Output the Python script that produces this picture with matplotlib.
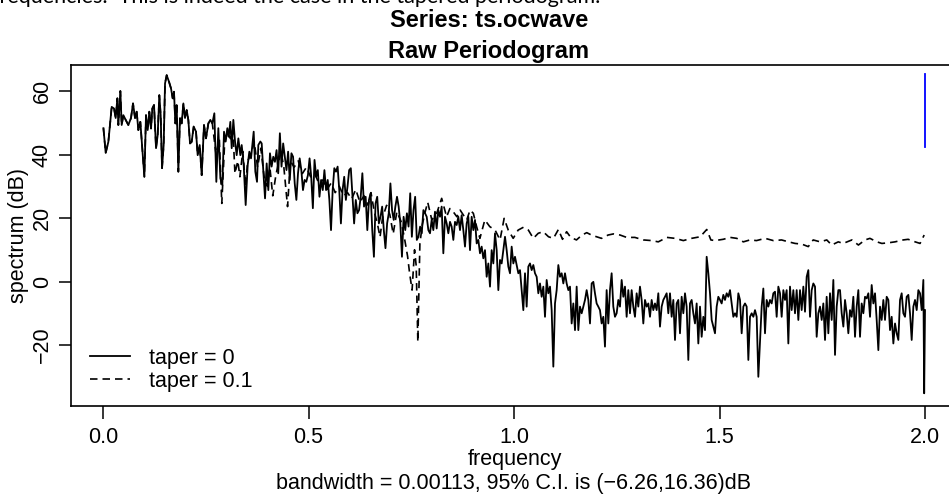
import numpy as np
import matplotlib
matplotlib.use("Agg")
import matplotlib.pyplot as plt

plt.rcParams["font.family"] = ["Liberation Sans", "DejaVu Sans"]

# taper = 0 : low-frequency part (explicit frequencies)
freq_a = [0.001, 0.0065, 0.013, 0.0211, 0.0268, 0.0308, 0.0349, 0.0373, 0.0422, 0.0454,
          0.0495, 0.0552, 0.0616, 0.0681, 0.073, 0.0779, 0.0819, 0.086, 0.0908, 0.1006,
          0.1046, 0.1087, 0.1127, 0.1168, 0.12, 0.1241, 0.129, 0.133, 0.137, 0.1403,
          0.1436, 0.1476, 0.1509, 0.1549, 0.1606, 0.1655, 0.1695, 0.1727, 0.176, 0.1792,
          0.1833, 0.1873, 0.1914, 0.1955, 0.1995, 0.2036, 0.2076, 0.2117, 0.2157, 0.2206,
          0.2263, 0.2303, 0.2352, 0.2401, 0.2457, 0.2506, 0.2563, 0.2611, 0.266, 0.2709,
          0.2757, 0.2806, 0.2855, 0.2903, 0.2944, 0.2985, 0.3025, 0.3058, 0.3098, 0.3131,
          0.3171, 0.3212, 0.3252, 0.3293, 0.3341, 0.3374, 0.3423, 0.3471, 0.352, 0.356,
          0.3601, 0.3633, 0.3666, 0.3706, 0.3747, 0.3779, 0.3828, 0.3861, 0.3901, 0.3942]
spec_a = [48.3, 40.5, 44, 55, 54.5, 51.5, 57.7, 49.3, 60, 49.3,
          52.4, 50.9, 49.3, 51.5, 56.1, 51.5, 53.5, 47.7, 50.3, 33,
          52.4, 47.7, 53.5, 48.2, 54.5, 55.6, 42, 46.1, 58.7, 52.4,
          35.7, 43, 62.4, 65, 62.9, 60.8, 57.7, 59.8, 49.8, 55.6,
          34.6, 51.5, 49.8, 56.1, 51.5, 54, 50.9, 43.5, 44, 48.8,
          47.2, 39.8, 43, 33.5, 49.3, 45.1, 49.8, 50.9, 49.8, 53,
          31.4, 48.3, 32.5, 30.4, 47.2, 44.1, 48.3, 45.6, 50.3, 42,
          50.9, 44.1, 39.8, 45.1, 39.8, 43, 36.7, 24.1, 36.7, 40.9,
          38.8, 43, 47.2, 34.6, 31.4, 43, 44.1, 43.5, 34.6, 26.2]

# taper = 0 : evenly spaced segments (start, end, values)
spec_b = [37.2, 28.8, 40.4, 36.2, 39.3, 37.7, 41.4, 34.1, 46.7, 36.2,
          43.5, 39.3, 35.1, 40.9, 32, 40.4, 39.3, 30.9, 25.7, 34.1,
          38.8, 35.1, 28.8, 32, 31.4, 33.5, 38.8, 33, 23.1, 38.3,
          33, 35.1, 26.7, 32, 28.8, 35.1, 28.8, 32, 25.7, 16.2,
          28.8, 35.7, 34.6, 36.2, 28.8, 18.3, 28.8, 33, 25.7, 29.9,
          35.1, 35.7, 26.7, 18.3, 25.7, 21.5, 22.5, 26.7, 34.1, 23.6,
          26.7, 16.2, 25.7, 27.8, 16.2, 7.8, 24.6, 26.7, 18.3, 20.4,
          23.6, 16.2, 10.5, 18.3, 21.5, 30.9, 22.5, 19.4, 23.6, 26.7,
          23.6, 18.3, 7.8, 20.4, 16.2, 21.5, 17.3, 27.8, 14.1, 22.5,
          26.7, 13.1, 14.1, 17.3, 15.2, 22.5, 21.5, 20.4, 16.2]
spec_c = [15.2, 19.4, 16.2, 22.0, 16.7, 22.5, 20.4, 23.6, 8.9, 20.4,
          18.3, 15.2, 18.8, 17.3, 13.1, 18.8, 17.8, 20.4, 16.2, 20.9,
          16.2, 11.0, 18.3, 20.4, 9.9, 20.4, 16.2, 19.4, 12.0, 13.1,
          8.9, 11.0, 7.3, 9.9, 1.5, 5.7, -1.6, 9.9, 5.7, 15.2,
          9.9, -2.7, 6.8, 5.7, 9.9, 14.1, 9.9, 4.7, 2.6, 11.0,
          5.7, 7.8, 5.2, 2.6, 3.6, -2.7, -9.0, 2.6, -7.9, 4.7,
          5.7, 3.6, 5.2, 2.6, 1.5, -3.7, -0.6, -4.8, -1.6, -11.1,
          0.5, -3.7, -1.6, -9.0, -26.8, -6.9, -2.7, 5.2, 1.5, 2.6,
          -0.6, 2.6, -0.6, -2.7, -1.6, -13.2, -6.9, -15.3, -1.6, -15.3,
          -7.9, -10.0, -7.9, -5.8, -2.7, -5.8, -13.2, -0.6, -0.1]
spec_d = [-3.7, -6.9, -7.9, -9.0, -13.2, -11.1, -20.5, -2.7, -13.2, -2.7,
          2.6, -7.9, -11.1, -10.0, -5.8, -7.9, 0.5, -4.8, -1.6, -11.1,
          -2.7, -10.0, -2.7, -7.9, -11.1, -3.7, -7.9, -1.6, -5.8, -13.2,
          -5.8, -7.9, -6.9, -11.1, -5.8, -9.0, -6.9, -9.0, -3.7, -14.2,
          -7.9, -5.8, -4.8, -3.7, -10.0, -3.7, -11.1, -5.8, -18.4, -6.9,
          -5.8, -16.3, -4.8, -10.0, -3.7, -7.9, -24.7, -6.9, -5.8, -10.0,
          -13.2, -6.9, -19.5, -7.9, -17.4, -11.1, -15.3, 7.8, 2.6, -3.7,
          -12.1, -14.2, -16.3, -7.9, -4.8, -5.8, -6.9, -4.2, -5.8, -3.7,
          -4.8, -2.7, -6.9, -11.1, -10.0, -11.1, -3.7, -5.8, -16.3, -7.9,
          -6.9, -7.9, -24.7, -11.1, -10.0, -11.1, -9.0, -11.1, -30.0]
spec_e = [-7.9, -2.2, -16.3, -5.8, -7.9, -5.8, -6.9, -3.7, -3.2, -11.1,
          -1.6, -3.7, -11.1, -2.7, -5.8, -2.7, -19.5, -1.6, -9.0, -2.7,
          -10.0, -2.7, -12.1, -2.7, -9.0, -1.6, -9.5, 1.5, 3.6, -11.1,
          -2.7, -0.6, -1.6, -17.4, -10.0, -7.9, -12.1, -6.9, -18.4, -4.8,
          -16.3, -3.7, -12.1, 0.5, -23.1, -7.9, -2.7, -2.7, -10.0, -14.2,
          -5.8, -10.0, -16.3, -9.0, -11.1, -4.8, -17.4, -7.9, -2.7, -17.4,
          -6.9, -10.0, -4.8, -5.3, -3.7, -11.1, -1.1, -6.9, -3.7, -12.1,
          -21.6, -7.9, -12.1, -5.8, -12.1, -4.8, -5.8, -15.3, -11.1, -19.5,
          -13.2, -16.3, -18.4, -5.8, -3.7, -10.0, -11.1, -4.8, -4.2, -10.0,
          -18.4, -7.9, -5.8, -9.0, -2.7, -3.7, -9.0, 0.5]
freq_end = [1.998, 2.0]
spec_end = [-35.2, -9.0]

segments = [(0.3982, 0.7916, spec_b), (0.7956, 1.193, spec_c),
            (1.197, 1.5945, spec_d), (1.6026, 1.996, spec_e)]

freq0 = list(freq_a)
spec0 = list(spec_a)
for lo, hi, vals in segments:
    freq0 += list(np.linspace(lo, hi, len(vals)))
    spec0 += vals
freq0 += freq_end
spec0 += spec_end
freq0 = np.array(freq0)
spec0 = np.array(spec0)

# taper = 0.1 : coincides with taper = 0 below 0.27, then read separately
freq_t = [0.275, 0.283, 0.289, 0.296, 0.303, 0.31, 0.316, 0.321, 0.328, 0.333,
          0.34, 0.347, 0.352, 0.36, 0.368, 0.376, 0.384, 0.392, 0.40, 0.406,
          0.413, 0.42, 0.426, 0.433, 0.44, 0.449, 0.456, 0.465, 0.475, 0.485,
          0.495, 0.505, 0.515, 0.525, 0.535, 0.545, 0.555, 0.565, 0.575, 0.585,
          0.595, 0.605, 0.615, 0.625, 0.635, 0.645, 0.652, 0.66, 0.668, 0.674,
          0.68, 0.69, 0.698, 0.706, 0.715, 0.725, 0.733, 0.741, 0.746, 0.752,
          0.758, 0.762, 0.766, 0.771, 0.777, 0.784, 0.79, 0.797,
          0.80, 0.812, 0.824, 0.836, 0.844, 0.852, 0.861, 0.869, 0.877, 0.885,
          0.893, 0.901, 0.909, 0.917, 0.929, 0.941, 0.954, 0.966, 0.976, 0.986,
          0.998, 1.01, 1.023, 1.035, 1.047, 1.059, 1.071, 1.084, 1.096, 1.108,
          1.118, 1.128, 1.138, 1.152, 1.165, 1.177, 1.189,
          1.201, 1.213, 1.229, 1.242, 1.258, 1.274, 1.294, 1.315, 1.335, 1.351,
          1.372, 1.392, 1.412, 1.432, 1.453, 1.469, 1.479, 1.489, 1.509, 1.526,
          1.542, 1.558, 1.574, 1.59,
          1.611, 1.631, 1.651, 1.668, 1.684, 1.700, 1.716, 1.728, 1.745, 1.761,
          1.773, 1.789, 1.801, 1.822, 1.838, 1.854, 1.866, 1.883, 1.895, 1.911,
          1.927, 1.947, 1.959, 1.976, 1.988, 1.998]
spec_t = [40, 45, 24.6, 44, 47, 45, 48, 34, 38, 33,
          41, 30, 38, 40, 44, 36, 42, 33, 30, 36,
          27, 33, 37, 41, 36, 23.6, 38, 36, 38, 34,
          36, 33, 34, 31, 32, 29, 31, 28, 30, 27,
          28, 26, 29, 25, 27, 24, 28, 22, 18, 14,
          20, 24, 21, 15, 22, 19, 14, 8, 2.6, -2.7,
          10, 5, -19, 12, 18, 22, 25, 21,
          19.4, 21.5, 26.2, 20.4, 23, 22, 20.4, 22.5, 20.9, 19.4,
          22.5, 21.5, 17.3, 13.6, 19.4, 17.3, 16.2, 13.1, 19.9, 16.2,
          13.6, 16.2, 17.1, 16.2, 13.6, 15.2, 15.7, 14.1, 13.6, 16.4,
          13.3, 15.7, 13.9, 13.1, 14.6, 15.4, 14.6,
          14.1, 13.6, 14.65, 15.0, 14.65, 13.9, 13.9, 13.1, 12.9, 12.5,
          13.9, 13.6, 12.9, 13.6, 14.1, 16.4, 13.1, 12.9, 13.3, 13.9,
          13.6, 12.5, 13.1, 12.9,
          13.6, 12.9, 13.1, 12.5, 12.0, 11.8, 11.0, 13.1, 12.5, 13.1,
          11.5, 12.5, 12.0, 13.1, 11.5, 13.1, 13.6, 12.5, 12.0, 12.2,
          12.5, 13.1, 13.3, 12.5, 12.0, 14.65]

low = freq0 < 0.27
freq1 = np.concatenate([freq0[low], freq_t])
spec1 = np.concatenate([spec0[low], spec_t])

# 95% confidence bar
ci_freq = 2.0
ci_range = [42.3, 65.4]

W, H = 949, 495
fs = 15.5

fig = plt.figure(figsize=(W / 100, H / 100), dpi=100)
ax = fig.add_axes([71 / W, (H - 406) / H, 887 / W, 341 / H])

ax.plot(freq0, spec0, color="black", lw=1.3, label="taper = 0")
ax.plot(freq1, spec1, color="black", lw=1.2, dashes=(4.5, 3), label="taper = 0.1")
ax.plot([ci_freq, ci_freq], ci_range, color="blue", lw=1.3)

ax.set_xlim(-0.0779, 2.0803)
ax.set_ylim(-39.2, 68.2)
ax.set_xticks([0.0, 0.5, 1.0, 1.5, 2.0])
ax.set_xticklabels(["0.0", "0.5", "1.0", "1.5", "2.0"])
ax.set_yticks([-20, 0, 20, 40, 60])
ax.set_yticklabels(["\u221220", "0", "20", "40", "60"], rotation=90, va="center")
ax.tick_params(direction="out", length=9, width=1.1, labelsize=fs)
ax.tick_params(axis="x", pad=6)
ax.tick_params(axis="y", pad=4)
for s in ax.spines.values():
    s.set_linewidth(1.2)

ax.set_xlabel("frequency", fontsize=fs)
ax.xaxis.label.set_va("center")
ax.xaxis.set_label_coords(0.5, (406 - 459) / 341)
ax.set_ylabel("spectrum (dB)", fontsize=fs)
ax.yaxis.label.set_va("center")
ax.yaxis.set_label_coords((19 - 71) / 887, 0.5)

fig.text(514 / W, 1 - 483 / H,
         "bandwidth = 0.00113, 95% C.I. is (\u22126.26,16.36)dB",
         ha="center", va="center", fontsize=fs)

fig.text(489 / W, 1 - 27 / H, "Series: ts.ocwave", ha="center", va="baseline",
         fontsize=17, fontweight="bold")
fig.text(489 / W, 1 - 58 / H, "Raw Periodogram", ha="center", va="baseline",
         fontsize=17, fontweight="bold")
fig.text(-0.008, 1 - 3 / H,
         "frequencies.  This is indeed the case in the tapered periodogram.",
         ha="left", va="baseline", fontsize=15.5, family=["Lato", "DejaVu Sans"])

ax.legend(loc="lower left", bbox_to_anchor=((90 - 71) / 887, (406 - 392) / 341),
          frameon=False, fontsize=fs, handlelength=1.85, handletextpad=0.9,
          borderpad=0, borderaxespad=0, labelspacing=0.1)

fig.savefig("out.png", dpi=100)
